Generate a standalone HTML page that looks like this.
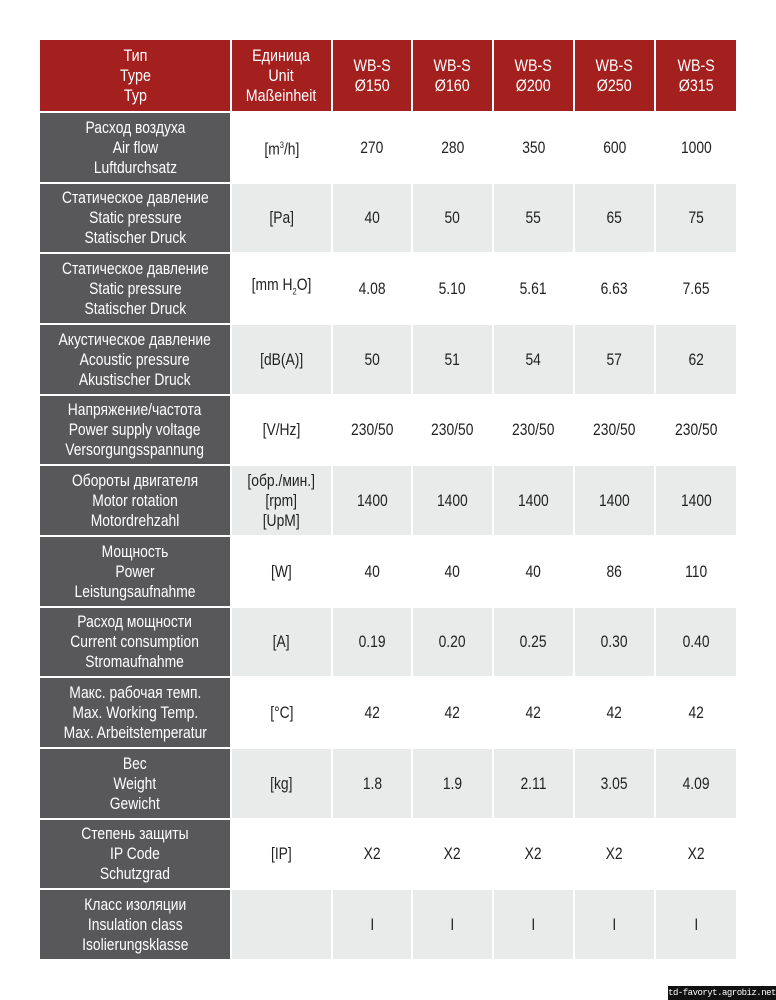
<!DOCTYPE html>
<html><head><meta charset="utf-8"><style>
body{margin:0;width:776px;height:1000px;background:#fff;position:relative;overflow:hidden;font-family:"Liberation Sans",sans-serif;}
.c{position:absolute;display:flex;align-items:center;justify-content:center;text-align:center;font-size:16.5px;line-height:20px;color:#222;box-sizing:border-box;white-space:nowrap;}
.c span{display:inline-block;transform:scaleX(0.84);}
.h{background:#a3201f;color:#fff;font-size:17px;}
.d{background:#58585a;color:#fff;}
.g{background:#e9ebeb;}
.w{background:#fff;}
#wm{position:absolute;left:668px;top:986px;width:108px;height:14px;background:#111;color:#fff;font:9px "Liberation Mono",monospace;letter-spacing:-0.5px;line-height:14px;text-align:center;white-space:nowrap;overflow:hidden;}
</style></head><body>
<div id="t"></div>
<div id="wm">td-favoryt.agrobiz.net</div>
<script>
const xs=[40,232,333,413,494,575,656,736];
const hdr=["Тип<br>Type<br>Typ","Единица<br>Unit<br>Maßeinheit","WB-S<br>Ø150","WB-S<br>Ø160","WB-S<br>Ø200","WB-S<br>Ø250","WB-S<br>Ø315"];
const rows=[
["Расход воздуха<br>Air flow<br>Luftdurchsatz","[m<sup style='font-size:9px'>3</sup>/h]","270","280","350","600","1000"],
["Статическое давление<br>Static pressure<br>Statischer Druck","[Pa]","40","50","55","65","75"],
["Статическое давление<br>Static pressure<br>Statischer Druck","[mm H<sub style='font-size:9px'>2</sub>O]","4.08","5.10","5.61","6.63","7.65"],
["Акустическое давление<br>Acoustic pressure<br>Akustischer Druck","[dB(A)]","50","51","54","57","62"],
["Напряжение/частота<br>Power supply voltage<br>Versorgungsspannung","[V/Hz]","230/50","230/50","230/50","230/50","230/50"],
["Обороты двигателя<br>Motor rotation<br>Motordrehzahl","[обр./мин.]<br>[rpm]<br>[UpM]","1400","1400","1400","1400","1400"],
["Мощность<br>Power<br>Leistungsaufnahme","[W]","40","40","40","86","110"],
["Расход мощности<br>Current consumption<br>Stromaufnahme","[A]","0.19","0.20","0.25","0.30","0.40"],
["Макс. рабочая темп.<br>Max. Working Temp.<br>Max. Arbeitstemperatur","[°C]","42","42","42","42","42"],
["Вес<br>Weight<br>Gewicht","[kg]","1.8","1.9","2.11","3.05","4.09"],
["Степень защиты<br>IP Code<br>Schutzgrad","[IP]","X2","X2","X2","X2","X2"],
["Класс изоляции<br>Insulation class<br>Isolierungsklasse","","I","I","I","I","I"]];
let h="";
function cell(x0,x1,y0,y1,cls,txt){h+=`<div class="c ${cls}" style="left:${x0}px;top:${y0}px;width:${x1-x0-2}px;height:${y1-y0-2}px"><span>${txt}</span></div>`;}
for(let j=0;j<7;j++)cell(xs[j],xs[j+1]+(j==6?2:0),40,113,"h",hdr[j]);
const rh=70.67;
rows.forEach((r,i)=>{const y1=Math.round(113+(i+1)*rh);
for(let j=0;j<7;j++)cell(xs[j],xs[j+1]+(j==6?2:0),Math.round(111+i*rh)+2,y1,j==0?"d":(i%2?"g":"w"),r[j]);});
document.getElementById("t").innerHTML=h;
</script>
</body></html>
